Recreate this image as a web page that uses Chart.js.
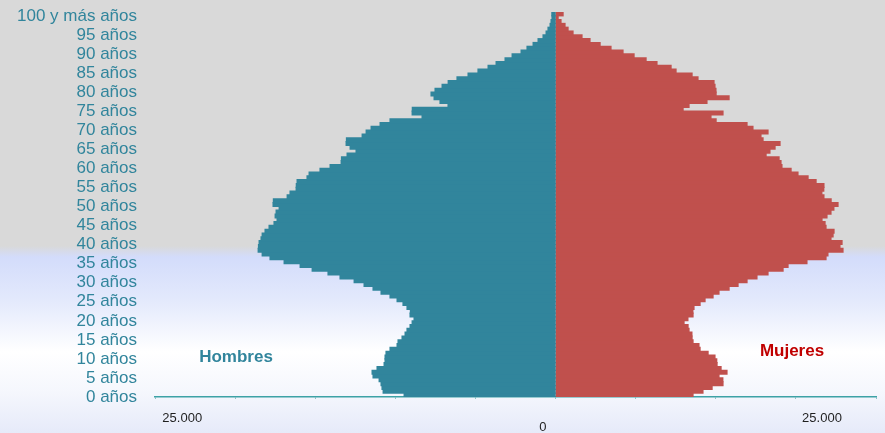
<!DOCTYPE html>
<html lang="es">
<head>
<meta charset="utf-8">
<title>Pirámide de población</title>
<script src="https://cdn.jsdelivr.net/npm/chart.js@4.4.0/dist/chart.umd.min.js"></script>
<style>
    html, body {
        margin: 0;
        padding: 0;
        width: 885px;
        height: 433px;
        overflow: hidden;
        background: linear-gradient(to bottom,
            #d9d9d9 0px, #d9d9d9 246px, #d3dcfb 257px, #e3e9fc 300px,
            #ffffff 352px, #f5f7fd 392px, #e6eaf9 433px);
    }
    canvas { display: block; }
</style>
</head>
<body>
<canvas id="pyramid" width="885" height="433"></canvas>
<script>
// single years of age 0..100 ("100 y más")
const tickLabels = ['0 años', '5 años', '10 años', '15 años', '20 años', '25 años', '30 años',
    '35 años', '40 años', '45 años', '50 años', '55 años', '60 años', '65 años', '70 años',
    '75 años', '80 años', '85 años', '90 años', '95 años', '100 y más años'];

const ages = [];
for (let a = 0; a <= 100; a++) ages.push(a);

// age 0 first
const hombres = [
    9450, 10760, 10830, 10890, 11010, 11390, 11450, 11140, 10700, 10640,
    10640, 10580, 10330, 9890, 9830, 9580, 9390, 9270, 9080, 8950,
    8830, 9080, 9060, 9270, 9520, 9890, 10330, 10890, 11390, 11950,
    12570, 13450, 14200, 15190, 15940, 16940, 17820, 18310, 18560, 18540,
    18500, 18380, 18310, 18130, 17880, 17570, 17380, 17500, 17440, 17250,
    17630, 17610, 16750, 16570, 16190, 16180, 16130, 15510, 15380, 14700,
    14070, 13380, 13360, 13010, 12450, 12820, 13070, 13050, 12070, 11820,
    11510, 10950, 10330, 8330, 8950, 8940, 6710, 7210, 7580, 7770,
    7520, 7080, 6700, 6150, 5460, 4840, 4210, 3710, 3150, 2710,
    2150, 1780, 1400, 1090, 780, 590, 470, 340, 280, 220,
    230
];

const mujeres = [
    8580, 9200, 9770, 10450, 10440, 10200, 10700, 10330, 10080, 10060,
    9950, 9520, 9020, 8950, 8580, 8520, 8510, 8330, 8270, 8020,
    8260, 8580, 8570, 8640, 9020, 9330, 9830, 10200, 10830, 11390,
    11950, 12570, 13260, 14200, 14510, 15690, 16880, 17000, 17940, 17750,
    17880, 17190, 17320, 17380, 16880, 16820, 16630, 16940, 17190, 17370,
    17630, 17200, 16750, 16620, 16740, 16750, 16260, 15760, 15130, 14700,
    14130, 14070, 13950, 13140, 13380, 13700, 14010, 12950, 12820, 13260,
    12320, 11950, 10020, 9700, 10450, 7960, 8330, 9450, 10830, 10020,
    10010, 9950, 9890, 8890, 8520, 7520, 7210, 6330, 5650, 4900,
    4210, 3460, 2780, 2150, 1650, 1090, 780, 590, 340, 160,
    470
];

const xLabels = ['25.000', '0', '25.000'];

const ageTick = (val, i) => (i % 5 === 0 ? tickLabels[i / 5] : '');

const sideLabels = {
    id: 'sideLabels',
    afterDraw(chart) {
        const { ctx, scales: { x } } = chart;
        ctx.save();
        ctx.textAlign = 'center';
        ctx.textBaseline = 'middle';

        ctx.font = '13px "Liberation Sans", Arial, sans-serif';
        ctx.fillStyle = '#1f1f1f';
        ctx.fillText(xLabels[0], x.getPixelForValue(-23300), 418);
        ctx.fillText(xLabels[1], x.getPixelForValue(-790), 427);
        ctx.fillText(xLabels[2], x.getPixelForValue(16630), 418);

        ctx.font = 'bold 17px "Liberation Sans", Arial, sans-serif';
        ctx.fillStyle = '#31859c';
        ctx.fillText('Hombres', 236, 357);
        ctx.fillStyle = '#c00000';
        ctx.fillText('Mujeres', 792, 351);
        ctx.restore();
    }
};

new Chart(document.getElementById('pyramid'), {
    type: 'bar',
    data: {
        labels: ages,
        datasets: [
            {
                label: 'Hombres',
                data: hombres.map(v => -v),
                backgroundColor: '#31859c',
                borderWidth: 0,
                inflateAmount: 0.6,
                barPercentage: 1,
                categoryPercentage: 1,
            },
            {
                label: 'Mujeres',
                data: mujeres,
                backgroundColor: '#c0504d',
                borderWidth: 0,
                inflateAmount: 0.6,
                barPercentage: 1,
                categoryPercentage: 1,
            },
        ],
    },
    options: {
        indexAxis: 'y',
        responsive: false,
        animation: false,
        layout: { padding: { top: 12, right: 9, left: 0, bottom: 0 } },
        plugins: {
            legend: { display: false },
            tooltip: { enabled: false },
        },
        scales: {
            x: {
                stacked: true,
                min: -25000,
                max: 20000,
                ticks: { display: false, stepSize: 5000 },
                grid: {
                    drawOnChartArea: false,
                    drawTicks: true,
                    tickLength: 2,
                    color: '#8cc3c7',
                },
                border: { display: true, color: '#3da2a6', width: 1.5 },
                afterFit: s => { s.height = 36; },
            },
            y: {
                stacked: true,
                reverse: true,
                grid: { display: false, drawTicks: false },
                border: { display: false },
                ticks: {
                    autoSkip: false,
                    padding: 18,
                    labelOffset: 2,
                    color: '#31859c',
                    font: { family: '"Liberation Sans", Arial, sans-serif', size: 17 },
                    callback: ageTick,
                },
                afterFit: s => {
                    s.width = 155;
                    s.paddingTop = 0;
                    s.paddingBottom = 0;
                },
            },
        },
    },
    plugins: [sideLabels],
});
</script>
</body>
</html>
